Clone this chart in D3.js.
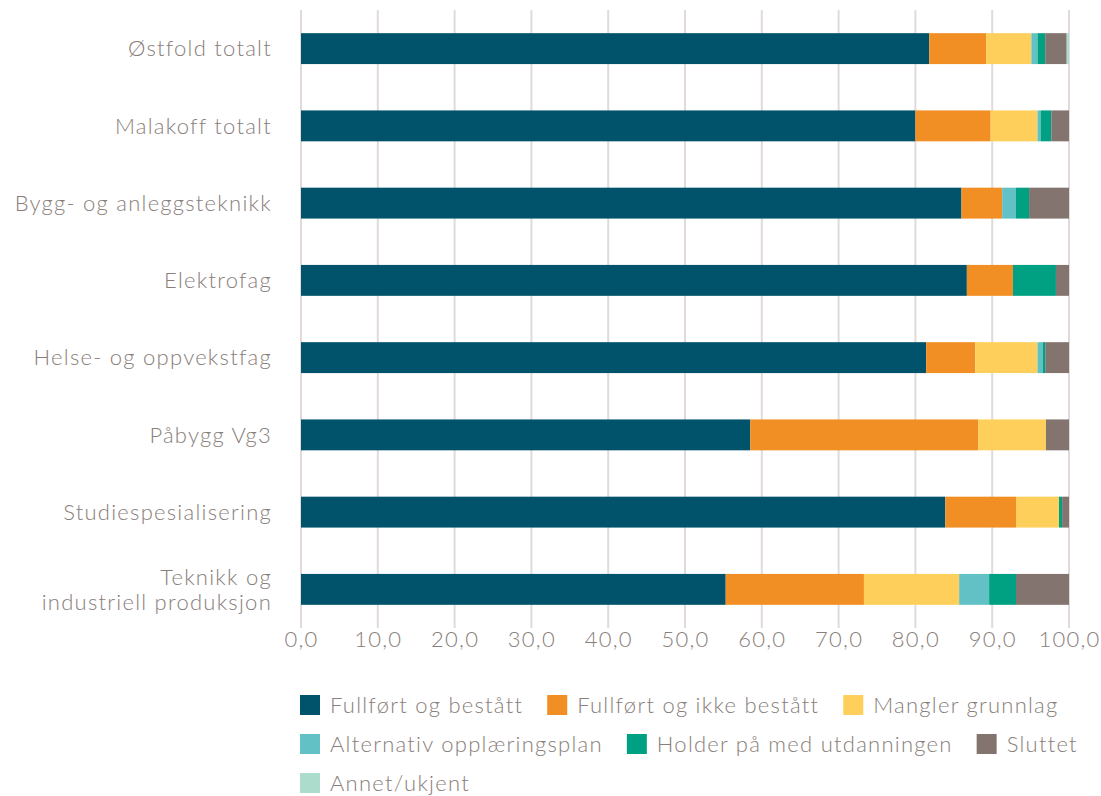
<!DOCTYPE html>
<html>
<head>
<meta charset="utf-8">
<script src="https://cdn.jsdelivr.net/npm/d3@7"></script>
<style>
  html, body { margin: 0; padding: 0; background: #fff; }
  svg text { font-family: Lato, "Open Sans", sans-serif; font-weight: 300; fill: #887e7a; letter-spacing: 1.25px; }
</style>
</head>
<body>
<svg id="chart" width="1101" height="796"></svg>
<script>
// Categories (top to bottom)
const categories = [
  "Østfold totalt",
  "Malakoff totalt",
  "Bygg- og anleggsteknikk",
  "Elektrofag",
  "Helse- og oppvekstfag",
  "Påbygg Vg3",
  "Studiespesialisering",
  "Teknikk og\nindustriell produksjon"
];

// Series names and colours
const seriesNames = [
  "Fullført og bestått",
  "Fullført og ikke bestått",
  "Mangler grunnlag",
  "Alternativ opplæringsplan",
  "Holder på med utdanningen",
  "Sluttet",
  "Annet/ukjent"
];
const seriesColors = ["#00536b", "#f28f24", "#fed05b", "#62c1c5", "#00a082", "#837470", "#acdccc"];

// Percent values per series, in category order
const fullfortBestatt     = [81.8, 80.0, 86.0, 86.7, 81.4, 58.5, 83.9, 55.3];
const fullfortIkkeBestatt = [ 7.4,  9.8,  5.3,  6.0,  6.4, 29.7,  9.2, 18.0];
const manglerGrunnlag     = [ 5.9,  6.1,  0.0,  0.0,  8.1,  8.8,  5.6, 12.4];
const alternativPlan      = [ 0.8,  0.4,  1.8,  0.0,  0.7,  0.0,  0.0,  3.9];
const holderPa            = [ 1.0,  1.4,  1.7,  5.6,  0.3,  0.0,  0.4,  3.5];
const sluttet             = [ 2.8,  2.3,  5.2,  1.7,  3.1,  3.0,  0.9,  6.9];
const annetUkjent         = [ 0.3,  0.0,  0.0,  0.0,  0.0,  0.0,  0.0,  0.0];

// Axis ticks
const tickValues = [0, 10, 20, 30, 40, 50, 60, 70, 80, 90, 100];

const seriesValues = [fullfortBestatt, fullfortIkkeBestatt, manglerGrunnlag,
  alternativPlan, holderPa, sluttet, annetUkjent];

const rows = categories.map((c, i) => {
  const r = { category: c };
  seriesNames.forEach((s, j) => { r[s] = seriesValues[j][i]; });
  return r;
});

const margin = { left: 301, right: 32, top: 10, bottom: 168 };
const W = 1101, H = 796;
const FS = "22px";
const svg = d3.select("#chart");

const x = d3.scaleLinear().domain([0, 100]).range([margin.left, W - margin.right]);
const y = d3.scaleBand().domain(categories).range([margin.top, H - margin.bottom]).paddingInner(0.6).paddingOuter(0.3);

// Vertical gridlines
svg.append("g")
  .selectAll("line")
  .data(tickValues)
  .join("line")
  .attr("x1", d => x(d)).attr("x2", d => x(d))
  .attr("y1", margin.top).attr("y2", H - margin.bottom)
  .attr("stroke", "#e2dada").attr("stroke-width", 2);

// Stacked bars
const stack = d3.stack().keys(seriesNames)(rows);
svg.append("g")
  .selectAll("g")
  .data(stack)
  .join("g")
  .attr("fill", (d, i) => seriesColors[i])
  .selectAll("rect")
  .data(d => d)
  .join("rect")
  .attr("x", d => x(d[0]))
  .attr("width", d => Math.max(0, x(d[1]) - x(d[0])))
  .attr("y", d => y(d.data.category))
  .attr("height", y.bandwidth());

// X axis
const fmt = d => d3.format(".1f")(d).replace(".", ",");
const xAxis = svg.append("g")
  .attr("transform", `translate(0,${H - margin.bottom})`)
  .call(d3.axisBottom(x).tickValues(tickValues).tickFormat(fmt).tickSize(0).tickPadding(3));
xAxis.select(".domain").remove();
xAxis.selectAll("text").style("font-size", FS).attr("fill", "#887e7a");

// Category labels
const labels = svg.append("g")
  .selectAll("text")
  .data(categories)
  .join("text")
  .attr("text-anchor", "end")
  .attr("x", 272)
  .style("font-size", FS);
labels.each(function(d) {
  const lines = d.split("\n");
  const cy = y(d) + y.bandwidth() / 2;
  const lh = 25;
  const t = d3.select(this);
  lines.forEach((ln, k) => {
    t.append("tspan")
      .attr("x", 272)
      .attr("y", cy + (k - (lines.length - 1) / 2) * lh)
      .attr("dy", "0.35em")
      .text(ln);
  });
});

// Legend with flowing layout
const legend = svg.append("g");
let lx = 300, ly = 705;
const rowH = 39, maxRight = 1095;
seriesNames.forEach((s, i) => {
  const g = legend.append("g");
  const txt = g.append("text")
    .attr("x", 30).attr("y", 0).attr("dy", "0.35em")
    .style("font-size", FS).text(s);
  const w = 30 + txt.node().getComputedTextLength();
  if (lx + w > maxRight) { lx = 300; ly += rowH; }
  g.attr("transform", `translate(${lx},${ly})`);
  g.insert("rect", "text")
    .attr("x", 0).attr("y", -10).attr("width", 20).attr("height", 20)
    .attr("fill", seriesColors[i]);
  lx += w + 24;
});
</script>
</body>
</html>
